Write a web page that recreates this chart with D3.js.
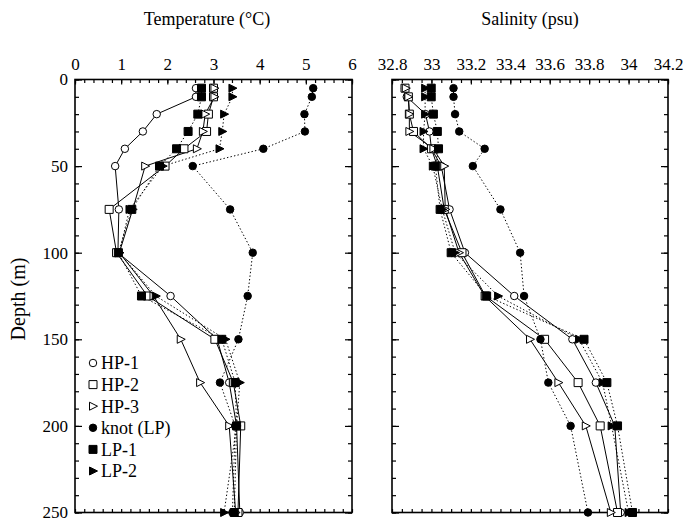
<!DOCTYPE html>
<html>
<head>
<meta charset="utf-8">
<title>Temperature and salinity profiles</title>
<script src="https://cdn.jsdelivr.net/npm/d3@7"></script>
<style>
  body { margin: 0; background: #fff; }
  svg text { font-family: "Liberation Serif", "Times New Roman", serif; fill: #000; }
  .frame { fill: none; stroke: #000; stroke-width: 1.6px; }
  .axis path { display: none; }
  .axis line { stroke: #000; stroke-width: 1.2px; }
  .axis text { font-size: 17px; }
  .series { fill: none; stroke: #000; stroke-width: 1px; }
  .series.dotted { stroke-dasharray: 1.4, 2.2; }
</style>
</head>
<body>
<script>
// depths of the casts (m)
var depths = [5, 10, 20, 30, 40, 50, 75, 100, 125, 150, 175, 200, 250];

// temperature (°C)
var tempHP1 = [2.62, 2.62, 1.77, 1.47, 1.08, 0.87, 0.95, 0.93, 2.07, 3.08, 3.34, 3.5, 3.57];
var tempHP2 = [3.0, 3.0, 2.89, 2.85, 2.36, 1.95, 0.74, 0.9, 1.57, 3.03, 3.43, 3.59, 3.53];
var tempHP3 = [3.02, 3.02, 2.82, 2.77, 2.64, 1.52, 1.25, 0.96, 1.7, 2.29, 2.71, 3.34, 3.48];
var tempKnot = [5.16, 5.13, 4.97, 4.98, 4.08, 2.55, 3.36, 3.85, 3.74, 3.54, 3.14, 3.47, 3.41];
var tempLP1 = [2.74, 2.74, 2.66, 2.45, 2.2, 1.83, 1.23, 0.94, 1.44, 3.18, 3.47, 3.5, 3.45];
var tempLP2 = [3.41, 3.41, 3.23, 3.19, 3.13, 1.9, 1.18, 0.96, 1.75, 3.26, 3.57, 3.5, 3.23];

// salinity (psu)
var salHP1 = [32.866, 32.875, 32.97, 32.99, 33.0, 33.05, 33.092, 33.17, 33.42, 33.715, 33.834, 33.93, 33.96];
var salHP2 = [32.866, 32.883, 32.888, 32.909, 33.0, 33.03, 33.065, 33.155, 33.274, 33.574, 33.744, 33.856, 33.944];
var salHP3 = [32.87, 32.883, 32.888, 32.888, 33.01, 33.065, 33.07, 33.14, 33.27, 33.5, 33.644, 33.783, 33.91];
var salKnot = [33.112, 33.112, 33.12, 33.141, 33.27, 33.21, 33.35, 33.45, 33.47, 33.553, 33.593, 33.706, 33.794];
var salLP1 = [32.999, 32.999, 33.01, 33.03, 33.036, 33.02, 33.044, 33.1, 33.28, 33.774, 33.89, 33.944, 34.02];
var salLP2 = [32.968, 32.968, 32.968, 32.96, 32.96, 33.007, 33.055, 33.12, 33.338, 33.749, 33.868, 33.914, 34.0];

var seriesNames = ["HP-1", "HP-2", "HP-3", "knot (LP)", "LP-1", "LP-2"];
var seriesMarks = ["circle", "square", "triangle", "circle", "square", "triangle"];
var seriesFilled = [false, false, false, true, true, true];

var tempTicks = [0, 1, 2, 3, 4, 5, 6];
var salTicks = [32.8, 33, 33.2, 33.4, 33.6, 33.8, 34, 34.2];
var depthTicks = [0, 50, 100, 150, 200, 250];

var tempSeries = [tempHP1, tempHP2, tempHP3, tempKnot, tempLP1, tempLP2];
var salSeries = [salHP1, salHP2, salHP3, salKnot, salLP1, salLP2];

var width = 685, height = 524;

var svg = d3.select("body").append("svg")
    .attr("width", width)
    .attr("height", height);

var y = d3.scaleLinear().domain([0, 250]).range([79.5, 512.5]);

var xTemp = d3.scaleLinear().domain([0, 6]).range([75, 352]);
var xSal = d3.scaleLinear().domain([32.8, 34.2]).range([392, 668]);

function markerPath(kind) {
    if (kind === "circle") return d3.symbol().type(d3.symbolCircle).size(44)();
    if (kind === "square") return "M-4,-4L4,-4L4,4L-4,4Z";
    return "M-3.5,-4L4.5,0L-3.5,4Z"; // right pointing triangle
}

function renderPanel(x, majorTicks, minorStep, fmt, series, showDepth) {
    var g = svg.append("g");
    var x0 = x.range()[0], x1 = x.range()[1];
    var y0 = y.range()[0], y1 = y.range()[1];
    var dom = x.domain();
    var minor = d3.range(dom[0], dom[1] + minorStep / 2, minorStep);

    // inward ticks on all four sides
    g.append("g").attr("class", "axis")
        .attr("transform", "translate(0," + y0 + ")")
        .call(d3.axisTop(x).tickValues(minor).tickSize(-3.5).tickFormat(""));
    g.append("g").attr("class", "axis")
        .attr("transform", "translate(0," + y0 + ")")
        .call(d3.axisTop(x).tickValues(majorTicks).tickSize(-5).tickPadding(10).tickFormat(fmt));
    g.append("g").attr("class", "axis")
        .attr("transform", "translate(0," + y1 + ")")
        .call(d3.axisBottom(x).tickValues(minor).tickSize(-3.5).tickFormat(""));

    var yMinor = d3.range(0, 251, 10);
    g.append("g").attr("class", "axis")
        .attr("transform", "translate(" + x0 + ",0)")
        .call(d3.axisLeft(y).tickValues(yMinor).tickSize(-4).tickFormat(""));
    g.append("g").attr("class", "axis")
        .attr("transform", "translate(" + x0 + ",0)")
        .call(d3.axisLeft(y).tickValues(depthTicks).tickSize(-7).tickPadding(7)
            .tickFormat(showDepth ? d3.format("d") : ""));
    g.append("g").attr("class", "axis")
        .attr("transform", "translate(" + x1 + ",0)")
        .call(d3.axisRight(y).tickValues(yMinor).tickSize(-4).tickFormat(""));
    g.append("g").attr("class", "axis")
        .attr("transform", "translate(" + x1 + ",0)")
        .call(d3.axisRight(y).tickValues(depthTicks).tickSize(-7).tickFormat(""));

    g.append("rect").attr("class", "frame")
        .attr("x", x0).attr("y", y0)
        .attr("width", x1 - x0).attr("height", y1 - y0);

    var line = d3.line()
        .x(function (d) { return x(d[0]); })
        .y(function (d) { return y(d[1]); });

    series.forEach(function (vals, i) {
        var pts = vals.map(function (v, j) { return [v, depths[j]]; });
        g.append("path")
            .attr("class", seriesFilled[i] ? "series dotted" : "series")
            .attr("d", line(pts));
    });

    // draw markers after the lines, LP series on top
    series.forEach(function (vals, i) {
        g.selectAll("path.mk" + i)
            .data(vals)
            .enter().append("path")
            .attr("class", "mk" + i)
            .attr("d", markerPath(seriesMarks[i]))
            .attr("transform", function (d, j) {
                return "translate(" + x(d) + "," + y(depths[j]) + ")";
            })
            .style("fill", seriesFilled[i] ? "#000" : "#fff")
            .style("stroke", "#000")
            .style("stroke-width", 1);
    });
}

renderPanel(xTemp, tempTicks, 0.2, d3.format("d"), tempSeries, true);
renderPanel(xSal, salTicks, 0.05, function (d) { return +d.toFixed(1); }, salSeries, false);

// titles
svg.append("text")
    .attr("x", 207).attr("y", 25)
    .attr("text-anchor", "middle")
    .style("font-size", "18px")
    .text("Temperature (\u00B0C)");

svg.append("text")
    .attr("x", 530).attr("y", 25)
    .attr("text-anchor", "middle")
    .style("font-size", "18px")
    .text("Salinity (psu)");

svg.append("text")
    .attr("transform", "translate(25,299) rotate(-90)")
    .attr("text-anchor", "middle")
    .style("font-size", "20px")
    .text("Depth (m)");

// legend
var legend = svg.append("g")
    .attr("transform", "translate(93,363)");

var legendRows = legend.selectAll("g")
    .data(seriesNames)
    .enter().append("g")
    .attr("transform", function (d, i) { return "translate(0," + (i * 21.6) + ")"; });

legendRows.append("path")
    .attr("d", function (d, i) { return markerPath(seriesMarks[i]); })
    .style("fill", function (d, i) { return seriesFilled[i] ? "#000" : "#fff"; })
    .style("stroke", "#000")
    .style("stroke-width", 1);

legendRows.append("text")
    .attr("x", 8)
    .attr("dy", "0.35em")
    .style("font-size", "18px")
    .text(function (d) { return d; });
</script>
</body>
</html>
